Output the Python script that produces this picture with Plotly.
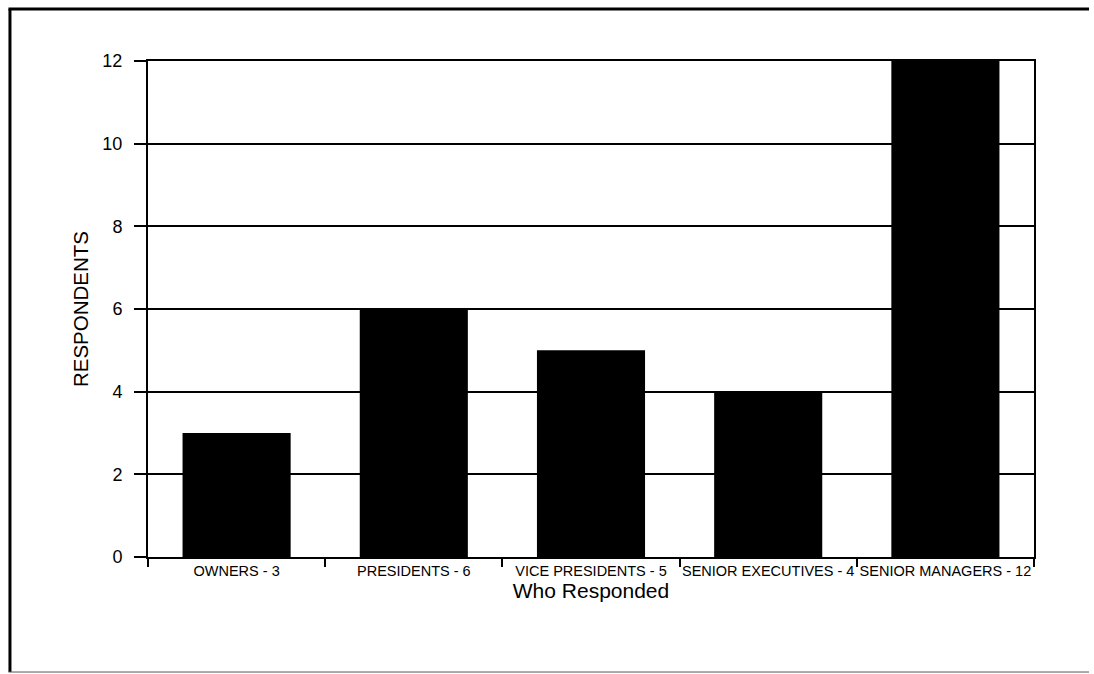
import plotly.graph_objects as go

# Survey respondents by role
roles = ["OWNERS", "PRESIDENTS", "VICE PRESIDENTS", "SENIOR EXECUTIVES", "SENIOR MANAGERS"]
counts = [3, 6, 5, 4, 12]
labels = [f"{r} - {c}" for r, c in zip(roles, counts)]
y_ticks = [0, 2, 4, 6, 8, 10, 12]

FONT = "Liberation Sans, Arial, sans-serif"

fig = go.Figure(
    go.Bar(
        x=labels,
        y=counts,
        marker=dict(color="black", line=dict(width=0)),
        width=0.61,
    )
)

fig.update_layout(
    width=1094,
    height=674,
    margin=dict(l=148, r=60, t=61, b=117),
    paper_bgcolor="white",
    plot_bgcolor="white",
    showlegend=False,
    font=dict(family=FONT, color="black"),
)

fig.update_xaxes(
    type="category",
    showline=True,
    linecolor="black",
    linewidth=2,
    mirror=True,
    ticks="outside",
    tickson="boundaries",
    ticklen=8,
    tickwidth=2,
    tickcolor="black",
    tickangle=0,
    tickfont=dict(size=14.5, family=FONT),
    showgrid=False,
    title=dict(text="Who Responded", font=dict(size=21, family=FONT), standoff=0),
)

fig.update_yaxes(
    range=[0, 12],
    tickvals=y_ticks,
    showline=True,
    linecolor="black",
    linewidth=2,
    mirror=True,
    ticks="outside",
    ticklen=12,
    tickwidth=2,
    tickcolor="black",
    tickfont=dict(size=18, family=FONT),
    ticklabelstandoff=8,
    showgrid=True,
    gridcolor="black",
    gridwidth=2,
    zeroline=False,
    title=dict(text="RESPONDENTS", font=dict(size=20.5, family=FONT), standoff=8),
)

# Page frame: heavy left and top rules, light bottom rule
fig.add_shape(type="line", xref="paper", yref="paper",
              x0=-0.1558, x1=-0.1558, y0=1.1048, y1=-0.2319,
              line=dict(color="black", width=3))
fig.add_shape(type="line", xref="paper", yref="paper",
              x0=-0.1575, x1=1.0621, y0=1.1048, y1=1.1048,
              line=dict(color="black", width=3))
fig.add_shape(type="line", xref="paper", yref="paper",
              x0=-0.1575, x1=1.0621, y0=-0.2319, y1=-0.2319,
              line=dict(color="#555555", width=1))

fig.write_html("out.html")
